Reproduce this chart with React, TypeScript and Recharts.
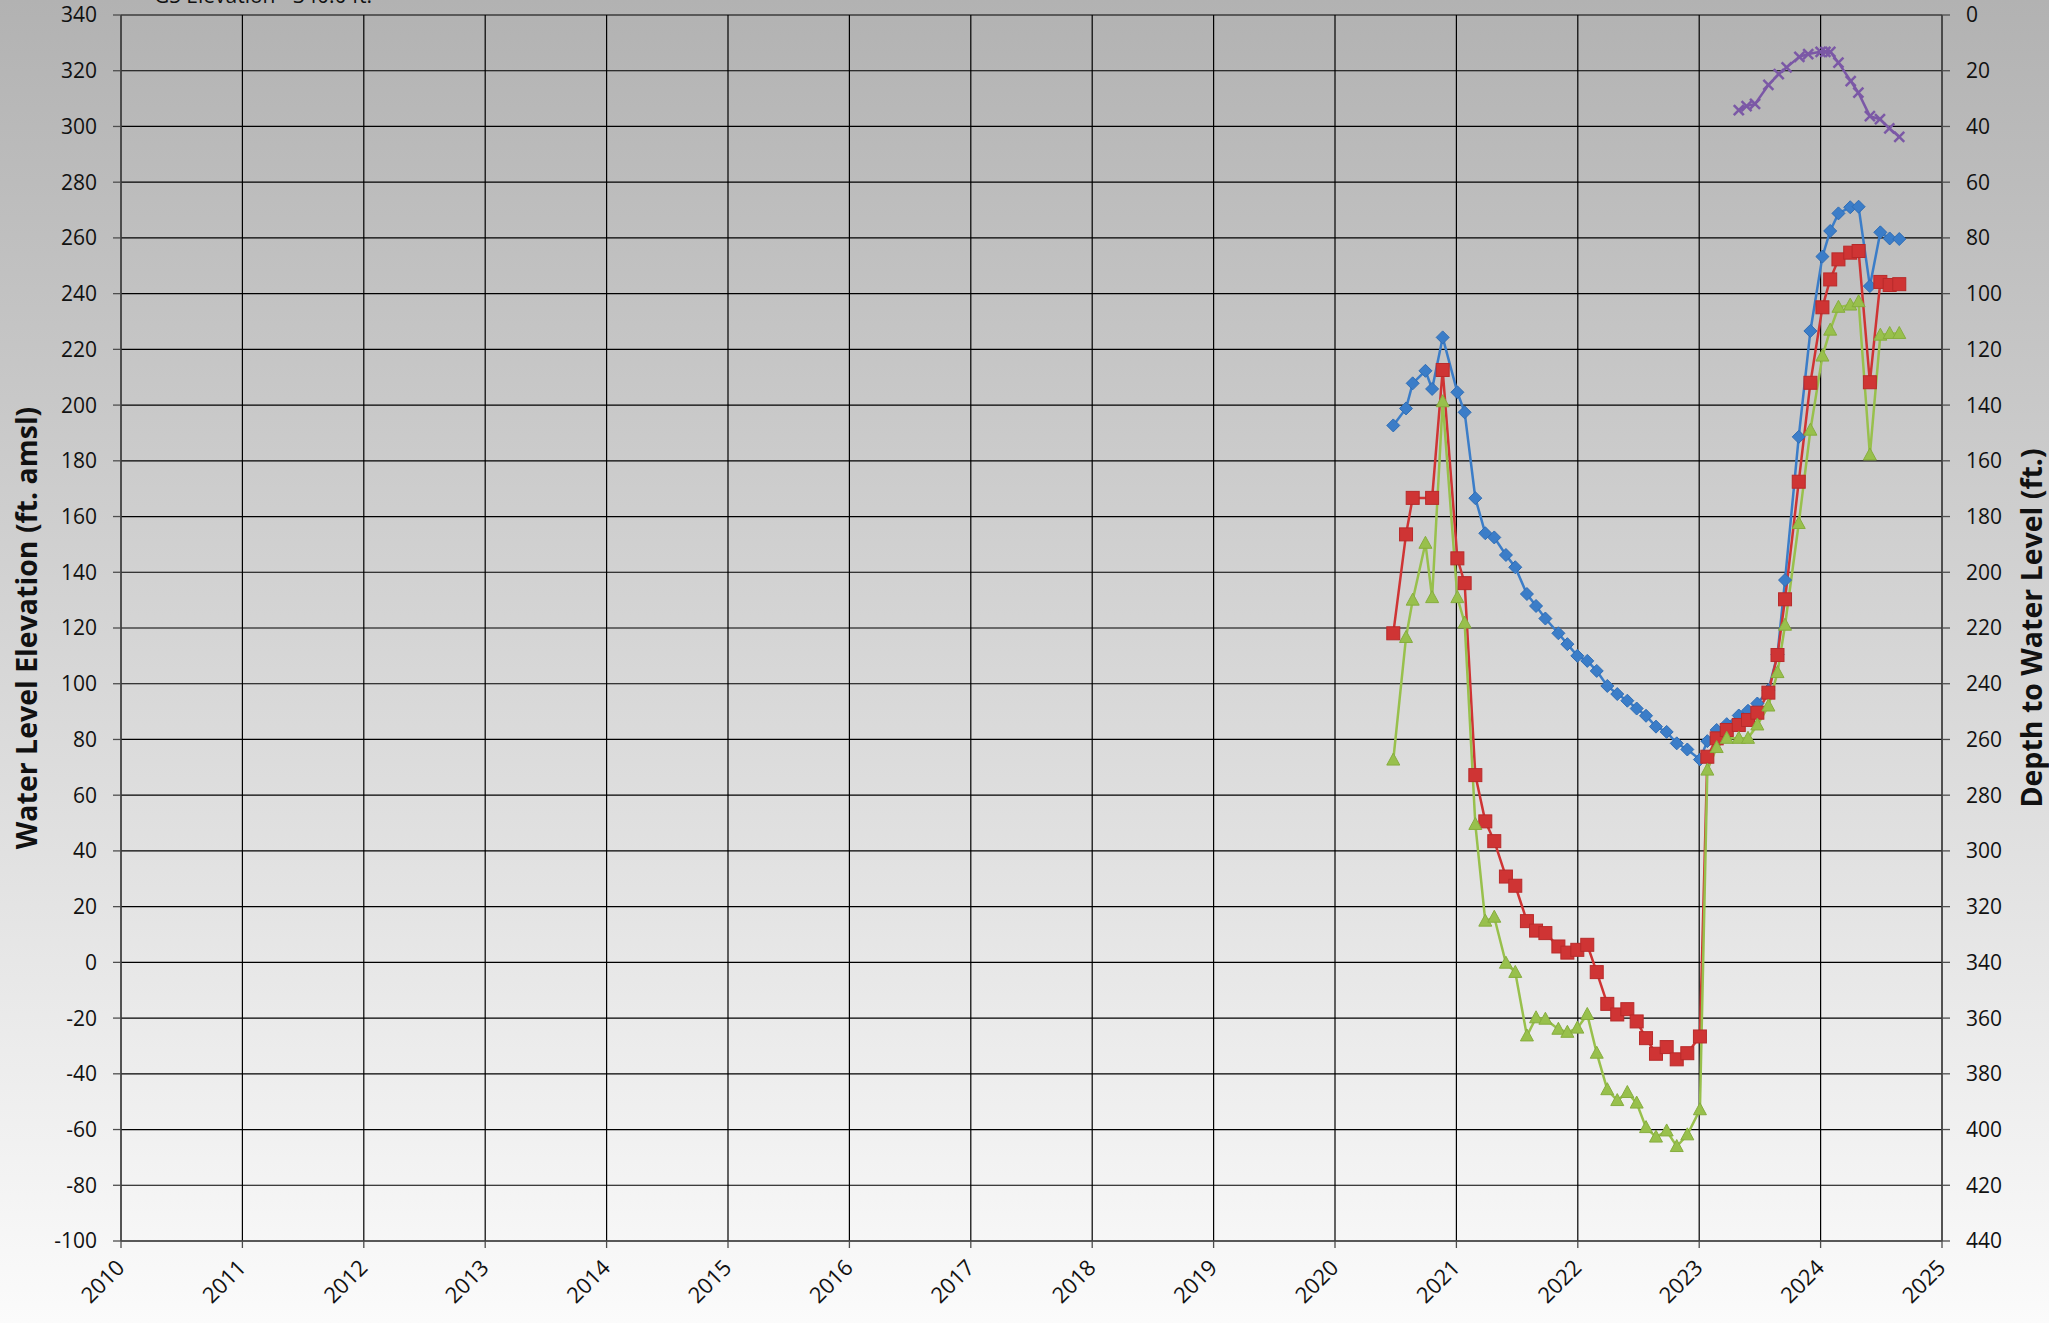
import React from 'react';
import { LineChart, Line, XAxis, YAxis, CartesianGrid } from 'recharts';

// sample dates (decimal years) shared by the three monitoring wells
const sampleDates = [
  2020.48, 2020.585, 2020.64, 2020.745, 2020.8, 2020.887, 2021.008, 2021.068, 2021.156, 2021.238,
  2021.312, 2021.408, 2021.485, 2021.581, 2021.656, 2021.733, 2021.84, 2021.914, 2021.996, 2022.078,
  2022.156, 2022.243, 2022.325, 2022.408, 2022.485, 2022.562, 2022.644, 2022.732, 2022.815, 2022.902,
  2023.006, 2023.067, 2023.144, 2023.227, 2023.326, 2023.402, 2023.479, 2023.57, 2023.645, 2023.707,
  2023.82, 2023.916, 2024.015, 2024.079, 2024.147, 2024.244, 2024.313, 2024.406, 2024.492, 2024.569,
  2024.648,
];

const wellBlue = [
  192.7, 198.8, 207.8, 212.3, 205.8, 224.3, 204.6, 197.4, 166.6, 154.0,
  152.5, 146.2, 141.8, 132.2, 127.9, 123.4, 118.1, 114.2, 110.0, 108.2,
  104.6, 99.2, 96.3, 93.9, 91.1, 88.5, 84.6, 82.7, 78.6, 76.4,
  72.8, 79.4, 83.4, 85.5, 88.6, 90.3, 92.9, 97.7, 110.5, 137.2,
  188.6, 226.6, 253.3, 262.5, 268.8, 271.0, 271.2, 242.7, 262.0, 259.8,
  259.6,
];

const wellRed = [
  118.1, 153.6, 166.7, null, 166.7, 212.6, 145.0, 136.1, 67.2, 50.6,
  43.5, 30.8, 27.5, 14.8, 11.4, 10.5, 5.7, 3.5, 4.5, 6.3,
  -3.5, -14.9, -18.7, -16.8, -21.2, -27.2, -32.8, -30.4, -34.8, -32.6,
  -26.6, 73.8, 80.4, 83.4, 85.2, 87.0, 89.6, 96.8, 110.3, 130.3,
  172.5, 208.0, 235.1, 245.1, 252.3, 254.7, 255.3, 208.2, 244.2, 243.1,
  243.4,
];

const wellGreen = [
  72.6, 116.6, 130.0, 150.4, 130.9, 201.2, 130.9, 121.8, 49.5, 14.8,
  16.2, -0.3, -3.6, -26.4, -19.9, -20.4, -24.0, -25.1, -23.6, -18.7,
  -32.6, -45.7, -49.6, -46.7, -50.5, -59.3, -62.7, -60.5, -66.1, -61.9,
  -52.9, 69.0, 77.1, 80.4, 80.4, 80.4, 85.2, 92.0, 104.0, 121.0,
  157.5, 191.0, 217.6, 226.9, 235.1, 235.9, 237.1, 182.1, 225.1, 225.7,
  225.7,
];

// shallow well, plotted as depth to water on the right axis
const purpleDates = [
  2023.326, 2023.39, 2023.46, 2023.57, 2023.655, 2023.72, 2023.825, 2023.898, 2024.0, 2024.04,
  2024.08, 2024.147, 2024.248, 2024.311, 2024.406, 2024.489, 2024.566, 2024.648,
];
const purpleDepth = [
  34.1, 32.7, 31.9, 25.1, 21.2, 18.8, 15.0, 14.0, 13.2, 13.2,
  13.2, 17.1, 23.7, 27.9, 36.3, 37.4, 40.7, 43.7,
];

const yearTicks = [2010, 2011, 2012, 2013, 2014, 2015, 2016, 2017, 2018, 2019, 2020, 2021, 2022, 2023, 2024, 2025];
const elevTicks = [-100, -80, -60, -40, -20, 0, 20, 40, 60, 80, 100, 120, 140, 160, 180, 200, 220, 240, 260, 280, 300, 320, 340];
const depthTicks = [0, 20, 40, 60, 80, 100, 120, 140, 160, 180, 200, 220, 240, 260, 280, 300, 320, 340, 360, 380, 400, 420, 440];

const toRows = (dates: number[], vals: (number | null)[]) =>
  dates.map((t, i) => ({ t, v: vals[i] })).filter((r) => r.v !== null);

const FONT = '"Open Sans", "DejaVu Sans", sans-serif';

const Diamond = (p: any) => {
  const { cx, cy, key } = p;
  if (cx == null || cy == null) return <g key={key} />;
  const r = 6.5;
  return (
    <polygon key={key} points={`${cx},${cy - r} ${cx + r},${cy} ${cx},${cy + r} ${cx - r},${cy}`}
      fill="#3b7dc8" stroke="#2f6db5" strokeWidth={1} />
  );
};

const Square = (p: any) => {
  const { cx, cy, key } = p;
  if (cx == null || cy == null) return <g key={key} />;
  return <rect key={key} x={cx - 6.5} y={cy - 6.5} width={13} height={13} fill="#cf3434" stroke="#b82a2a" strokeWidth={1} />;
};

const Triangle = (p: any) => {
  const { cx, cy, key } = p;
  if (cx == null || cy == null) return <g key={key} />;
  return (
    <polygon key={key} points={`${cx},${cy - 7} ${cx + 6.5},${cy + 5} ${cx - 6.5},${cy + 5}`}
      fill="#98c04c" stroke="#86ad3e" strokeWidth={1} />
  );
};

const Cross = (p: any) => {
  const { cx, cy, key } = p;
  if (cx == null || cy == null) return <g key={key} />;
  const r = 5;
  return (
    <g key={key} stroke="#7b58a6" strokeWidth={2.5}>
      <line x1={cx - r} y1={cy - r} x2={cx + r} y2={cy + r} />
      <line x1={cx - r} y1={cy + r} x2={cx + r} y2={cy - r} />
    </g>
  );
};

const YearTick = (p: any) => {
  const { x, y, payload } = p;
  const ax = x + 5;
  const ay = y + 19;
  return (
    <text x={ax} y={ay} transform={`rotate(-45 ${ax} ${ay})`} textAnchor="end"
      fontSize={22} fontFamily={FONT} fill="#111">
      {payload.value}
    </text>
  );
};

const App: React.FC = () => (
  <div
    style={{
      position: 'absolute', left: 0, top: 0, width: 2049, height: 1323, overflow: 'hidden',
      background: 'linear-gradient(to bottom, #b2b2b2 0%, #fbfbfb 100%)', fontFamily: FONT,
    }}
  >
    <div style={{ position: 'absolute', left: 154, top: -15, fontSize: 21, lineHeight: '21px', color: '#111', whiteSpace: 'nowrap' }}>
      GS Elevation ~340.0 ft.
    </div>
    <LineChart width={2049} height={1323} margin={{ top: 15, right: 0, bottom: 0, left: 0 }}>
      <CartesianGrid stroke="#000" strokeWidth={1.2} />
      <XAxis dataKey="t" type="number" domain={[2010, 2025]} ticks={yearTicks} interval={0}
        allowDataOverflow height={82} tick={<YearTick />} tickSize={7} stroke="#4d4d4d" strokeWidth={1.3} />
      <YAxis type="number" domain={[-100, 340]} ticks={elevTicks} interval={0} allowDataOverflow
        width={121} tickSize={8} tickMargin={16} stroke="#4d4d4d" strokeWidth={1.3}
        tick={{ fontSize: 21, fontFamily: FONT, fill: '#111' }} />
      <YAxis yAxisId="right" orientation="right" type="number" domain={[0, 440]} reversed ticks={depthTicks}
        interval={0} allowDataOverflow width={107} tickSize={8} tickMargin={16} stroke="#4d4d4d" strokeWidth={1.3}
        tick={{ fontSize: 21, fontFamily: FONT, fill: '#111', textAnchor: 'start' }} />
      <Line data={toRows(sampleDates, wellBlue)} dataKey="v" stroke="#3b7dc8" strokeWidth={2.5}
        dot={Diamond} activeDot={false} isAnimationActive={false} />
      <Line data={toRows(sampleDates, wellRed)} dataKey="v" stroke="#cf3434" strokeWidth={2.5}
        dot={Square} activeDot={false} isAnimationActive={false} />
      <Line data={toRows(sampleDates, wellGreen)} dataKey="v" stroke="#98c04c" strokeWidth={2.5}
        dot={Triangle} activeDot={false} isAnimationActive={false} />
      <Line yAxisId="right" data={toRows(purpleDates, purpleDepth)} dataKey="v" stroke="#7b58a6" strokeWidth={2.5}
        dot={Cross} activeDot={false} isAnimationActive={false} />
    </LineChart>
    <div style={{
      position: 'absolute', left: 26, top: 628, transform: 'translate(-50%, -50%) rotate(-90deg)',
      fontSize: 28.5, fontWeight: 700, color: '#111', whiteSpace: 'nowrap',
    }}>
      Water Level Elevation (ft. amsl)
    </div>
    <div style={{
      position: 'absolute', left: 2031, top: 628, transform: 'translate(-50%, -50%) rotate(-90deg)',
      fontSize: 28.5, fontWeight: 700, color: '#111', whiteSpace: 'nowrap',
    }}>
      Depth to Water Level (ft.)
    </div>
  </div>
);

export default App;
